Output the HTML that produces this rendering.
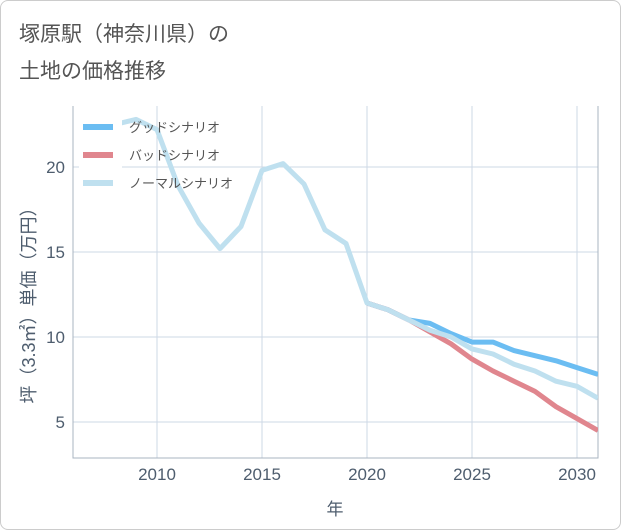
<!DOCTYPE html>
<html><head><meta charset="utf-8"><style>
body{margin:0;background:#fff;font-family:"Liberation Sans","Noto Sans CJK JP",sans-serif}
#card{position:absolute;left:0;top:0;width:619px;height:528px;border:1px solid #ccc;border-radius:8px;background:#fff}
</style></head><body>
<div id="card">
<svg id="svg" width="621" height="530" style="position:absolute;left:0;top:0"></svg>
</div>
<script>
const years=[2008,2009,2010,2011,2012,2013,2014,2015,2016,2017,2018,2019,2020,2021,2022,2023,2024,2025,2026,2027,2028,2029,2030,2031];
const normal=[22.5,22.8,22.2,18.9,16.7,15.2,16.5,19.8,20.2,19.0,16.3,15.5,12.0,11.6,11.0,10.4,10.0,9.3,9.0,8.4,8.0,7.4,7.1,6.4];
const goodYears=[2020,2021,2022,2023,2024,2025,2026,2027,2028,2029,2030,2031];
const good=[12.0,11.6,11.0,10.8,10.2,9.7,9.7,9.2,8.9,8.6,8.2,7.8];
const bad=[12.0,11.6,11.0,10.3,9.6,8.7,8.0,7.4,6.8,5.9,5.2,4.5];
const xTicks=[2010,2015,2020,2025,2030];
const yTicks=[5,10,15,20];
const NS="http://www.w3.org/2000/svg",svg=document.getElementById('svg');
const L=72,R=597,T=105,B=457;
const x=v=>156+(v-2010)*(576-156)/20;
const y=v=>336-(v-10)*(336-166)/10;
function el(t,a,p){const e=document.createElementNS(NS,t);for(const k in a)e.setAttribute(k,a[k]);(p||svg).appendChild(e);return e;}
function txt(s,a){const e=el('text',a);e.textContent=s;return e;}
const t1=txt('塚原駅（神奈川県）の',{x:18,y:40,'font-size':21,fill:'#555'});

const t2=txt('土地の価格推移',{x:18,y:77,'font-size':21,fill:'#555'});

const clip=el('clipPath',{id:'c'});el('rect',{x:L,y:T,width:R-L,height:B-T},clip);
xTicks.forEach(v=>{const g=el('line',{x1:x(v),x2:x(v),y1:T,y2:B,stroke:'#cdd9e5'});

const t=txt(v,{x:x(v),y:479,'text-anchor':'middle','font-size':17,fill:'#4e5d6e'});
});
yTicks.forEach(v=>{const g=el('line',{x1:L,x2:R,y1:y(v),y2:y(v),stroke:'#cdd9e5'});

const t=txt(v,{x:64,y:y(v)+6,'text-anchor':'end','font-size':17,fill:'#4e5d6e'});
});
const ax=el('path',{d:`M${L},${T}V${B}H${R}V${T}`,fill:'none',stroke:'#aab4c0'});

function line(xs,vs,c,n){const p=el('polyline',{points:xs.map((v,i)=>x(v)+','+y(vs[i])).join(' '),fill:'none',stroke:c,'stroke-width':5,'stroke-linejoin':'round','clip-path':'url(#c)'});
}
line(goodYears,good,'#6bbdf2','good-scenario-line');
line(goodYears,bad,'#e0868e','bad-scenario-line');
line(years,normal,'#bfe0ef','normal-scenario-line');
const lb=el('rect',{x:78,y:110,width:43,height:90,fill:'#fff'});

[['グッドシナリオ','#6bbdf2'],['バッドシナリオ','#e0868e'],['ノーマルシナリオ','#bfe0ef']].forEach((d,i)=>{
const yy=126+i*28;
const g=el('g',{});
el('line',{x1:82,x2:112,y1:yy,y2:yy,stroke:d[1],'stroke-width':6},g);
const t=el('text',{x:128,y:yy+5,'font-size':13,fill:'#555'},g);t.textContent=d[0];});
const xl=txt('年',{x:334,y:514,'text-anchor':'middle','font-size':17,fill:'#4e5d6e'});

const yl=txt('坪（3.3㎡）単価（万円）',{x:0,y:0,'text-anchor':'middle','font-size':18,fill:'#4e5d6e',transform:'translate(34,300) rotate(-90)'});

</script>
</body></html>
